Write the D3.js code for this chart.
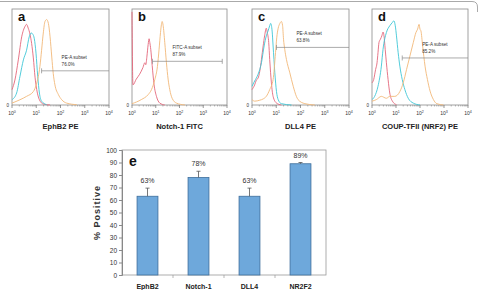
<!DOCTYPE html>
<html>
<head>
<meta charset="utf-8">
<script src="https://cdn.jsdelivr.net/npm/d3@7"></script>
<style>
  body { margin: 0; background: #fff; }
  svg { display: block; font-family: "Liberation Sans", Arial, sans-serif; }
</style>
</head>
<body>
<div id="chart"></div>
<script>
// flow cytometry panels (a-d): curves as [log10 decade, fraction of max height]
const panelLetters = ['a', 'b', 'c', 'd'];
const markerLabels = ['EphB2 PE', 'Notch-1 FITC', 'DLL4 PE', 'COUP-TFII (NRF2) PE'];
const gateNames = ['PE-A subset', 'FITC-A subset', 'PE-A subset', 'PE-A subset'];
const gatePercents = ['76.0%', '87.9%', '63.8%', '85.2%'];
const gateStart = [1.22, 0.86, 1.01, 1.26];
const gateEnd = [4.0, 3.8, 4.0, 4.0];
const gateLevel = [0.356, 0.455, 0.60, 0.49];
const decades = [0, 1, 2, 3, 4];

const redA = [[0,0.16],[0.12,0.26],[0.26,0.47],[0.40,0.71],[0.54,0.82],[0.60,0.84],[0.67,0.80],[0.74,0.74],[0.81,0.64],[0.88,0.49],[0.95,0.29],[1.02,0.16],[1.13,0.055],[1.29,0.01],[1.57,0]];
const cyanA = [[0,0.055],[0.19,0.125],[0.33,0.30],[0.47,0.47],[0.60,0.57],[0.71,0.71],[0.80,0.75],[0.85,0.74],[0.92,0.69],[0.99,0.54],[1.06,0.30],[1.13,0.125],[1.22,0.04],[1.43,0.003]];
const orangeA = [[0,0.02],[0.33,0.055],[0.60,0.09],[0.88,0.14],[1.02,0.23],[1.15,0.40],[1.22,0.57],[1.29,0.75],[1.36,0.87],[1.43,0.89],[1.50,0.85],[1.57,0.71],[1.64,0.50],[1.70,0.33],[1.77,0.21],[1.91,0.11],[2.05,0.055],[2.25,0.02],[2.67,0.003]];

const redB = [[0,0.97],[0.04,0.21],[0.18,0.27],[0.32,0.32],[0.46,0.39],[0.54,0.44],[0.58,0.42],[0.63,0.51],[0.68,0.63],[0.72,0.69],[0.75,0.65],[0.79,0.58],[0.85,0.41],[0.93,0.21],[1.03,0.09],[1.17,0.02],[1.38,0]];
const orangeB = [[0,0.014],[0.39,0.056],[0.68,0.108],[0.82,0.16],[0.96,0.265],[1.07,0.40],[1.14,0.58],[1.20,0.755],[1.24,0.84],[1.27,0.87],[1.31,0.83],[1.38,0.65],[1.45,0.44],[1.52,0.27],[1.59,0.16],[1.69,0.07],[1.87,0.02],[2.23,0]];

const redC = [[0,0.16],[0.11,0.21],[0.18,0.26],[0.25,0.28],[0.32,0.35],[0.39,0.475],[0.46,0.615],[0.52,0.72],[0.59,0.80],[0.63,0.755],[0.69,0.65],[0.73,0.475],[0.80,0.23],[0.87,0.09],[1.01,0.02],[1.21,0]];
const cyanC = [[0,0.195],[0.11,0.25],[0.25,0.32],[0.39,0.44],[0.50,0.615],[0.59,0.72],[0.66,0.77],[0.73,0.825],[0.77,0.85],[0.83,0.77],[0.87,0.615],[0.94,0.34],[1.01,0.14],[1.08,0.056],[1.21,0.014],[1.63,0]];
const orangeC = [[0,0.056],[0.11,0.04],[0.32,0.05],[0.46,0.063],[0.59,0.09],[0.73,0.16],[0.87,0.265],[0.97,0.545],[1.02,0.70],[1.08,0.80],[1.15,0.85],[1.21,0.87],[1.26,0.83],[1.30,0.685],[1.35,0.58],[1.42,0.475],[1.56,0.335],[1.70,0.195],[1.83,0.09],[1.90,0.056],[2.18,0.014],[2.59,0]];

const redD = [[0,0.23],[0.07,0.265],[0.15,0.37],[0.21,0.44],[0.25,0.545],[0.29,0.65],[0.35,0.685],[0.41,0.72],[0.46,0.76],[0.50,0.72],[0.55,0.58],[0.60,0.44],[0.67,0.265],[0.74,0.125],[0.85,0.04],[1.02,0.003]];
const cyanD = [[0,0.056],[0.11,0.09],[0.25,0.195],[0.39,0.405],[0.46,0.58],[0.60,0.755],[0.74,0.825],[0.85,0.86],[0.91,0.877],[0.97,0.825],[1.02,0.72],[1.09,0.545],[1.16,0.405],[1.26,0.265],[1.37,0.16],[1.51,0.07],[1.72,0.02],[2.0,0]];
const orangeD = [[0,0.04],[0.18,0.056],[0.39,0.09],[0.60,0.07],[0.74,0.09],[0.95,0.09],[1.16,0.14],[1.30,0.23],[1.44,0.37],[1.58,0.51],[1.72,0.65],[1.83,0.755],[1.90,0.79],[1.96,0.84],[2.00,0.79],[2.04,0.77],[2.11,0.615],[2.21,0.405],[2.31,0.265],[2.42,0.145],[2.56,0.056],[2.70,0.014],[2.98,0]];

const panelCurves = [
    [redA, cyanA, orangeA],
    [redB, null, orangeB],
    [redC, cyanC, orangeC],
    [redD, cyanD, orangeD]
];

// bar chart (e)
const categories = ['EphB2', 'Notch-1', 'DLL4', 'NR2F2'];
const percentPositive = [63, 78, 63, 89];
const errors = [6.5, 5, 6.5, 1];
const yTicks = [0, 10, 20, 30, 40, 50, 60, 70, 80, 90, 100];

const W = 479, H = 290;
const curveColors = ['#e3677a', '#3ec6d6', '#f2b878'];

const svg = d3.select('#chart').append('svg')
    .attr('width', W)
    .attr('height', H);

// outer figure border (top edge with rounded corner)
svg.append('path')
    .attr('d', 'M0,1.5 H472 Q477.5,1.5 477.5,7 V12')
    .attr('fill', 'none')
    .attr('stroke', '#aaa')
    .attr('stroke-width', 1);

const panelLeft = [12, 132, 252, 372];
const panelRight = [109, 227, 349, 468];
const panelTop = 9, panelBottom = 105;

panelLetters.forEach((letter, i) => {
    const x = d3.scaleLinear().domain([0, 4]).range([panelLeft[i], panelRight[i]]);
    const y = d3.scaleLinear().domain([0, 1]).range([panelBottom, panelTop]);
    const g = svg.append('g');

    g.append('rect')
        .attr('x', panelLeft[i])
        .attr('y', panelTop)
        .attr('width', panelRight[i] - panelLeft[i])
        .attr('height', panelBottom - panelTop)
        .attr('fill', 'none')
        .attr('stroke', '#8a8a8a')
        .attr('stroke-width', 0.8);

    // major + minor log ticks
    const minor = [];
    decades.slice(0, 4).forEach(d => {
        for (let k = 2; k < 10; k++) minor.push(d + Math.log10(k));
    });
    g.selectAll('.minor')
        .data(minor)
        .enter().append('line')
        .attr('x1', d => x(d)).attr('x2', d => x(d))
        .attr('y1', panelBottom).attr('y2', panelBottom + 1.5)
        .attr('stroke', '#777').attr('stroke-width', 0.5);
    g.selectAll('.major')
        .data(decades)
        .enter().append('line')
        .attr('x1', d => x(d)).attr('x2', d => x(d))
        .attr('y1', panelBottom).attr('y2', panelBottom + 3)
        .attr('stroke', '#555').attr('stroke-width', 0.6);

    const tl = g.selectAll('.tl')
        .data(decades)
        .enter().append('text')
        .attr('x', d => x(d))
        .attr('y', panelBottom + 10)
        .attr('text-anchor', 'middle')
        .attr('font-size', 5)
        .attr('fill', '#333');
    tl.append('tspan').text('10');
    tl.append('tspan').attr('dy', -2).attr('font-size', 3.6).text(d => d);

    g.append('text')
        .attr('x', panelLeft[i] - 3)
        .attr('y', panelBottom + 1.5)
        .attr('text-anchor', 'end')
        .attr('font-size', 4.5)
        .attr('fill', '#333')
        .text('0');

    const line = d3.line()
        .curve(d3.curveMonotoneX)
        .x(d => x(d[0]))
        .y(d => y(d[1]));

    panelCurves[i].forEach((c, j) => {
        if (!c) return;
        g.append('path')
            .attr('d', line(c))
            .attr('fill', 'none')
            .attr('stroke', curveColors[j])
            .attr('stroke-width', 0.9);
    });

    // gate
    const gy = y(gateLevel[i]);
    g.append('line')
        .attr('x1', x(gateStart[i])).attr('x2', x(gateEnd[i]))
        .attr('y1', gy).attr('y2', gy)
        .attr('stroke', '#888').attr('stroke-width', 0.7);
    [gateStart[i], gateEnd[i]].forEach(v => {
        if (v >= 4) return;
        g.append('line')
            .attr('x1', x(v)).attr('x2', x(v))
            .attr('y1', gy - 2.5).attr('y2', gy + 2.5)
            .attr('stroke', '#888').attr('stroke-width', 0.7);
    });
    const tx = x(gateStart[i]) + 20;
    g.append('text')
        .attr('x', tx).attr('y', gy - 12)
        .attr('font-size', 4.6).attr('fill', '#333')
        .text(gateNames[i]);
    g.append('text')
        .attr('x', tx).attr('y', gy - 5)
        .attr('font-size', 4.6).attr('fill', '#333')
        .text(gatePercents[i]);

    g.append('text')
        .attr('x', panelLeft[i] + 6)
        .attr('y', panelTop + 12)
        .attr('font-size', 13)
        .attr('font-weight', 'bold')
        .attr('fill', '#111')
        .text(letter);

    g.append('text')
        .attr('x', (panelLeft[i] + panelRight[i]) / 2)
        .attr('y', 129)
        .attr('text-anchor', 'middle')
        .attr('font-size', 7.5)
        .attr('font-weight', 'bold')
        .attr('fill', '#222')
        .text(markerLabels[i]);
});

// ---- panel e: bar chart ----
const barLeft = 122, barRight = 326, barTop = 150, barBottom = 275;

const xb = d3.scaleBand()
    .domain(categories)
    .range([barLeft, barRight])
    .paddingInner(0.59)
    .paddingOuter(0.295);
const yb = d3.scaleLinear().domain([0, 100]).range([barBottom, barTop]);

const eg = svg.append('g');

eg.append('rect')
    .attr('x', barLeft).attr('y', barTop)
    .attr('width', barRight - barLeft).attr('height', barBottom - barTop)
    .attr('fill', 'none')
    .attr('stroke', '#999').attr('stroke-width', 0.8);

eg.append('g')
    .attr('transform', `translate(${barLeft},0)`)
    .call(d3.axisLeft(yb).tickValues(yTicks).tickSize(3).tickPadding(2))
    .call(a => a.select('.domain').attr('stroke', '#888'))
    .call(a => a.selectAll('.tick line').attr('stroke', '#888'))
    .call(a => a.selectAll('.tick text')
        .attr('font-size', 6.5)
        .attr('font-family', '"Liberation Sans", Arial, sans-serif')
        .attr('fill', '#333'));

// category separators on x axis (band boundaries)
const gap = (xb.step() - xb.bandwidth()) / 2;
eg.selectAll('.sep')
    .data(categories.slice(1))
    .enter().append('line')
    .attr('x1', d => xb(d) - gap)
    .attr('x2', d => xb(d) - gap)
    .attr('y1', barBottom).attr('y2', barBottom + 3)
    .attr('stroke', '#999').attr('stroke-width', 0.7);

eg.selectAll('.bar')
    .data(categories)
    .enter().append('rect')
    .attr('x', d => xb(d))
    .attr('y', (d, i) => yb(percentPositive[i]))
    .attr('width', xb.bandwidth())
    .attr('height', (d, i) => barBottom - yb(percentPositive[i]))
    .attr('fill', '#6ea8db')
    .attr('stroke', '#3e6e9c')
    .attr('stroke-width', 0.8);

// error bars (upper only)
categories.forEach((c, i) => {
    const cx = xb(c) + xb.bandwidth() / 2;
    const y1 = yb(percentPositive[i]);
    const y2 = yb(percentPositive[i] + errors[i]);
    eg.append('line')
        .attr('x1', cx).attr('x2', cx).attr('y1', y1).attr('y2', y2)
        .attr('stroke', '#555').attr('stroke-width', 0.8);
    eg.append('line')
        .attr('x1', cx - 2).attr('x2', cx + 2).attr('y1', y2).attr('y2', y2)
        .attr('stroke', '#555').attr('stroke-width', 0.8);
    eg.append('text')
        .attr('x', cx).attr('y', y2 - 5)
        .attr('text-anchor', 'middle')
        .attr('font-size', 7)
        .attr('fill', '#333')
        .text(percentPositive[i] + '%');
});

eg.selectAll('.cat')
    .data(categories)
    .enter().append('text')
    .attr('x', d => xb(d) + xb.bandwidth() / 2)
    .attr('y', 289)
    .attr('text-anchor', 'middle')
    .attr('font-size', 7)
    .attr('font-weight', 'bold')
    .attr('fill', '#222')
    .text(d => d);

eg.append('text')
    .attr('x', 129)
    .attr('y', 166)
    .attr('font-size', 14)
    .attr('font-weight', 'bold')
    .attr('fill', '#111')
    .text('e');

eg.append('text')
    .attr('transform', `translate(100,${(barTop + barBottom) / 2}) rotate(-90)`)
    .attr('text-anchor', 'middle')
    .attr('font-size', 9)
    .attr('font-weight', 'bold')
    .attr('letter-spacing', 1)
    .attr('fill', '#333')
    .text('% Positive');
</script>
</body>
</html>
